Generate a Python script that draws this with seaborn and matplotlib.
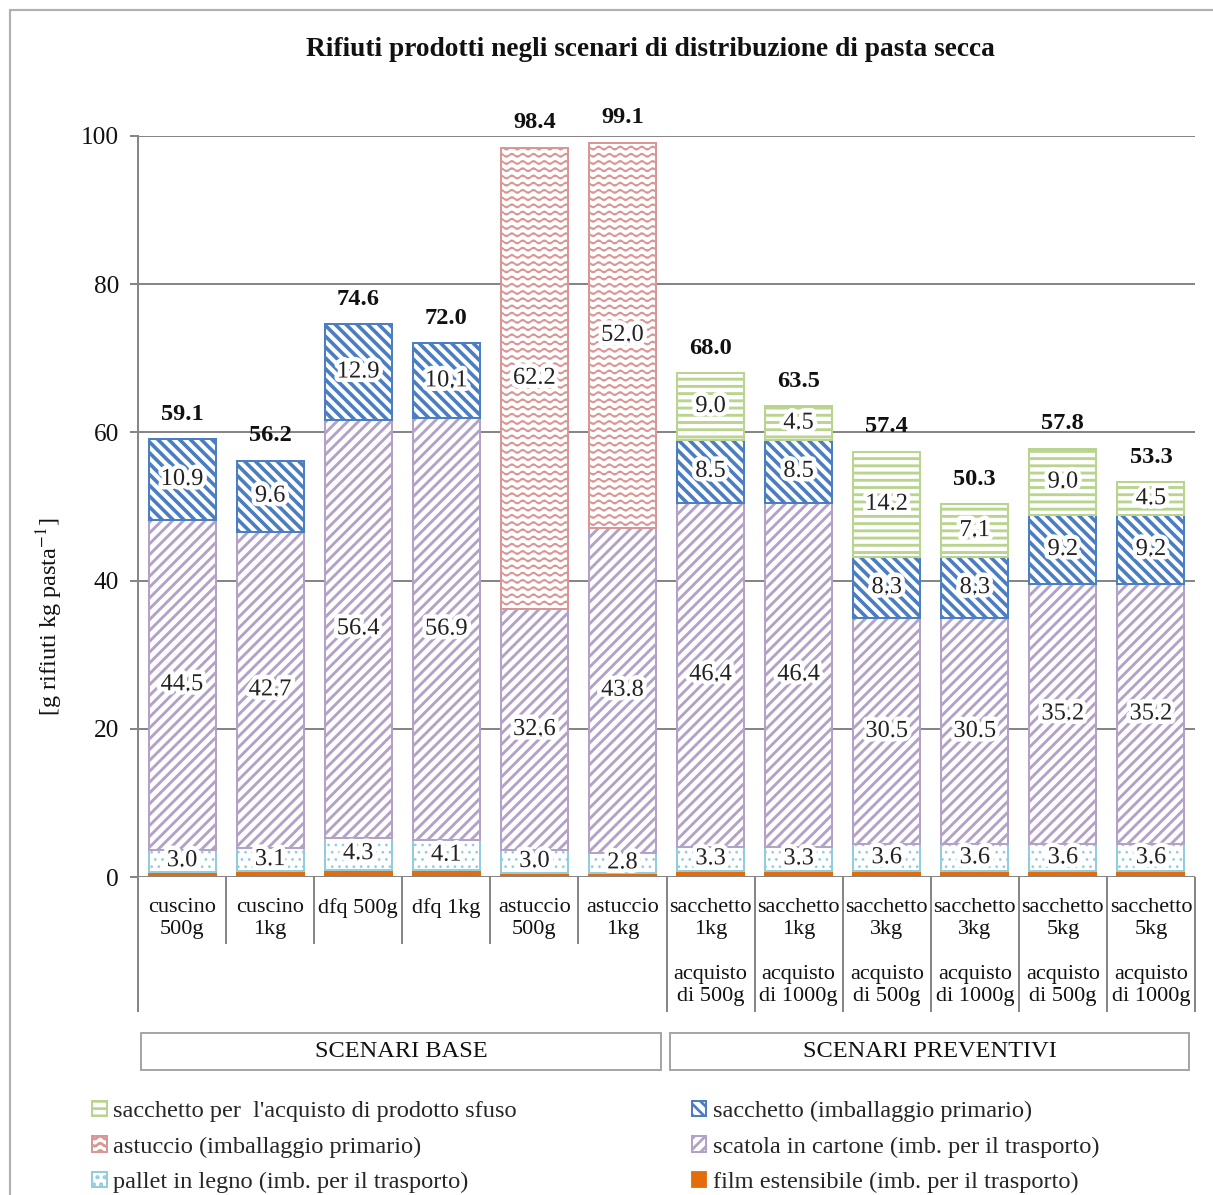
import numpy as np
import matplotlib
matplotlib.use("Agg")
import matplotlib.pyplot as plt
import matplotlib.hatch as mhatch
import matplotlib.patheffects as pe
from matplotlib.patches import Patch, Rectangle
from matplotlib.path import Path
import seaborn as sns


# ---- data ----
cat_line1 = ["cuscino\n500g", "cuscino\n1kg", "dfq 500g", "dfq 1kg", "astuccio\n500g", "astuccio\n1kg",
             "sacchetto\n1kg", "sacchetto\n1kg", "sacchetto\n3kg", "sacchetto\n3kg", "sacchetto\n5kg", "sacchetto\n5kg"]
cat_line2 = ["", "", "", "", "", "",
             "acquisto\ndi 500g", "acquisto\ndi 1000g", "acquisto\ndi 500g", "acquisto\ndi 1000g",
             "acquisto\ndi 500g", "acquisto\ndi 1000g"]
groups = ["SCENARI BASE", "SCENARI PREVENTIVI"]
group_sizes = [6, 6]

film = [0.7, 0.8, 1.0, 0.9, 0.6, 0.5, 0.8, 0.8, 0.8, 0.8, 0.8, 0.8]
pallet = [3.0, 3.1, 4.3, 4.1, 3.0, 2.8, 3.3, 3.3, 3.6, 3.6, 3.6, 3.6]
scatola = [44.5, 42.7, 56.4, 56.9, 32.6, 43.8, 46.4, 46.4, 30.5, 30.5, 35.2, 35.2]
astuccio = [0, 0, 0, 0, 62.2, 52.0, 0, 0, 0, 0, 0, 0]
sacchetto = [10.9, 9.6, 12.9, 10.1, 0, 0, 8.5, 8.5, 8.3, 8.3, 9.2, 9.2]
sfuso = [0, 0, 0, 0, 0, 0, 9.0, 4.5, 14.2, 7.1, 9.0, 4.5]
totals = [59.1, 56.2, 74.6, 72.0, 98.4, 99.1, 68.0, 63.5, 57.4, 50.3, 57.8, 53.3]

series_names = ["film estensibile (imb. per il trasporto)",
                "pallet in legno (imb. per il trasporto)",
                "scatola in cartone (imb. per il trasporto)",
                "astuccio (imballaggio primario)",
                "sacchetto (imballaggio primario)",
                "sacchetto per  l'acquisto di prodotto sfuso"]
series_values = [film, pallet, scatola, astuccio, sacchetto, sfuso]
series_colors = ["#E46C0A", "#93CDDD", "#B3A2C7", "#D99694", "#4A7EC0", "#B9D48F"]
series_hatch = [None, "...", "////", "|||", "\\\\\\\\", "---"]
series_hlw = [1.0, 0.7, 1.6, 1.0, 2.0, 1.6]
show_values = [False, True, True, True, True, True]


# '|' hatch redrawn as wavy lines, like the Excel "wave" fill of astuccio
class WaveHatch(mhatch.HatchPatternBase):
    def __init__(self, hatch, density):
        self.num_lines = int(hatch.count('|') * density)
        self.n_pts = 97
        self.num_vertices = self.num_lines * self.n_pts

    def set_vertices_and_codes(self, vertices, codes):
        steps, stepsize = np.linspace(0.0, 1.0, self.num_lines, False, retstep=True)
        steps += stepsize / 2.
        xs = np.linspace(0.0, 1.0, self.n_pts)
        ys = 0.22 * stepsize * np.sin(2 * np.pi * 12 * xs)
        for i, s in enumerate(steps):
            vertices[i * self.n_pts:(i + 1) * self.n_pts, 0] = xs
            vertices[i * self.n_pts:(i + 1) * self.n_pts, 1] = s + ys
        codes[:] = Path.LINETO
        codes[0::self.n_pts] = Path.MOVETO


mhatch._hatch_types = [WaveHatch if t is mhatch.VerticalHatch else t for t in mhatch._hatch_types]

sns.set_style("white")
plt.rcParams['font.family'] = ['Liberation Serif', 'DejaVu Serif']
plt.rcParams['mathtext.fontset'] = 'stix'
plt.rcParams['hatch.linewidth'] = 1.5

DPI = 130
W, H = 1213, 1195
fig = plt.figure(figsize=(W / DPI, H / DPI), dpi=DPI)
ax = fig.add_axes([138 / W, 1 - 877 / H, (1195 - 138) / W, (877 - 136) / H])

grey = "#868686"
txt = "#111111"
fs = 13.5
fs_cat = 12.3
pos = np.arange(len(totals))
bottom = np.zeros(len(totals))

for name, vals, col, hat, hlw, show in zip(series_names, series_values, series_colors,
                                           series_hatch, series_hlw, show_values):
    vals = np.array(vals, dtype=float)
    mask = vals > 0
    plt.rcParams['hatch.linewidth'] = hlw
    kw = dict(facecolor=col, edgecolor=col) if hat is None else dict(facecolor="white", edgecolor=col, hatch=hat)
    n_before = len(ax.patches)
    sns.barplot(x=pos[mask], y=vals[mask], order=list(pos), color=col, errorbar=None,
                width=0.76, bottom=bottom[mask], linewidth=1.1, ax=ax, **kw)
    for p in ax.patches[n_before:]:
        if hasattr(p, "set_hatch_linewidth"):
            p.set_hatch_linewidth(hlw)
    if show:
        for i in pos[mask]:
            ax.text(i, bottom[i] + vals[i] / 2, f"{vals[i]:.1f}", ha="center", va="center",
                    fontsize=fs, color="#222222",
                    path_effects=[pe.withStroke(linewidth=5, foreground="white")])
    bottom += vals
plt.rcParams['hatch.linewidth'] = 1.5

for i, t in enumerate(totals):
    ax.annotate(f"{t:.1f}", (i, t), xytext=(0, 8), textcoords="offset points",
                ha="center", va="bottom", fontsize=fs, fontweight="bold", color=txt,
                annotation_clip=False)

ax.set_xlim(-0.5, len(totals) - 0.5)
ax.set_ylim(0, 100)
ax.set_yticks(np.arange(0, 101, 20))
ax.set_yticklabels([str(v) for v in range(0, 101, 20)], fontsize=14)
ax.set_xticks([])
ax.set_xlabel("")
ax.set_ylabel("")
ax.yaxis.grid(True, color=grey, linewidth=1.1)
ax.set_axisbelow(True)
ax.tick_params(axis="y", length=4.5, width=1.1, color=grey, pad=6, left=True, labelcolor=txt)
for s in ["top", "right", "bottom"]:
    ax.spines[s].set_visible(False)
ax.spines["left"].set_color(grey)
ax.spines["left"].set_linewidth(1.1)
ax.axhline(0, color=grey, linewidth=1.1, zorder=5)

# multi-level category axis
tr = ax.get_xaxis_transform()
short_y, long_y = -0.0904, -0.1822
edges = np.cumsum([0] + group_sizes)
for k in range(len(totals) + 1):
    in_base = 0 < k < group_sizes[0]
    y_end = short_y if in_base else long_y
    ax.plot([k - 0.5, k - 0.5], [0, y_end], transform=tr, color=grey, linewidth=1.1,
            clip_on=False, solid_capstyle="butt")

for i in pos:
    ax.text(i, -0.0283, cat_line1[i], transform=tr, ha="center", va="top",
            fontsize=fs_cat, linespacing=1.2, color=txt)
    if cat_line2[i]:
        ax.text(i, -0.1188, cat_line2[i], transform=tr, ha="center", va="top",
                fontsize=fs_cat, linespacing=1.2, color=txt)

box_pad = [(0.03, 0.06), (0.04, 0.07)]
for g, name in enumerate(groups):
    x0 = edges[g] - 0.5 + box_pad[g][0]
    x1 = edges[g + 1] - 0.5 - box_pad[g][1]
    ax.add_patch(Rectangle((x0, -0.2605), x1 - x0, 0.05, transform=tr, fill=False,
                           edgecolor="#A6A6A6", linewidth=1.1, clip_on=False))
    ax.text((x0 + x1) / 2, -0.2355, name, transform=tr, ha="center", va="center",
            fontsize=fs, color=txt)

fig.text(650 / W, 1 - 50 / H, "Rifiuti prodotti negli scenari di distribuzione di pasta secca",
         ha="center", va="center", fontsize=15.2, fontweight="bold", color=txt)
fig.text(50 / W, 1 - 617 / H, "[g rifiuti kg pasta$^{-1}$]", rotation=90,
         ha="center", va="center", fontsize=fs, color=txt)

# legend (row order like the original: two columns)
handles = []
for col, hat in zip(series_colors, series_hatch):
    if hat is None:
        handles.append(Patch(facecolor=col, edgecolor=col))
    else:
        handles.append(Patch(facecolor="white", edgecolor=col, hatch=hat, linewidth=1.1))
leg_order = [5, 3, 1, 4, 2, 0]
fig.legend([handles[i] for i in leg_order], [series_names[i] for i in leg_order],
           loc="upper left", bbox_to_anchor=(92 / W, 1 - 1101 / H), ncol=2, frameon=False,
           fontsize=fs, handlelength=0.6, handleheight=0.6, handletextpad=0.25,
           labelspacing=0.58, columnspacing=7.2, borderpad=0, borderaxespad=0)

# outer frame
fig.patches.append(Rectangle((10 / W, -0.1), 1.2, 1.1 - 10 / H, transform=fig.transFigure,
                             fill=False, edgecolor="#B0B0B0", linewidth=1.2))

fig.savefig("out.png", dpi=DPI)
